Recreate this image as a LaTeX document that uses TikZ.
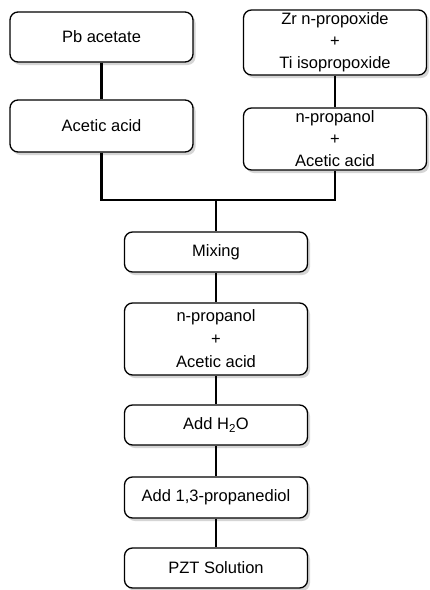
\documentclass[tikz,border=0pt]{standalone}
\usepackage{fontspec}
\setmainfont{Liberation Sans}
\usetikzlibrary{shadows}

\tikzset{
  stepbox/.style={draw, line width=1.3pt, rounded corners=8pt, minimum width=183pt,
    inner sep=0pt, align=center, font=\fontsize{16.5}{22}\selectfont, fill=white,
    drop shadow={shadow xshift=2.5pt, shadow yshift=-3pt, fill=gray!55, opacity=0.6}},
  link/.style={line width=2.6pt}
}

\begin{document}
\begin{tikzpicture}[x=1pt, y=-1pt]
    \fill[white] (0,0) rectangle (430,590); % page
    \useasboundingbox (0,0) rectangle (430,590);
    % left branch
    \node[stepbox, minimum height=50pt] (pb) at (101.5,37) {Pb acetate};
    \node[stepbox, minimum height=52pt] (acid) at (101.5,126) {Acetic acid};
    % right branch
    \node[stepbox, minimum height=65pt] (zrti) at (335,42.5) {Zr n-propoxide\\+\\Ti isopropoxide};
    \node[stepbox, minimum height=62pt] (prop) at (335,139) {n-propanol\\+\\Acetic acid};
    % main line
    \node[stepbox, minimum height=40pt] (mix) at (216,252) {Mixing};
    \node[stepbox, minimum height=72pt, font=\fontsize{16.5}{23}\selectfont] (prop2) at (216,339) {n-propanol\\+\\Acetic acid};
    \node[stepbox, minimum height=40pt] (water) at (216,425) {Add H\textsubscript{2}O};
    \node[stepbox, minimum height=41pt] (diol) at (216,497.5) {Add 1,3-propanediol};
    \node[stepbox, minimum height=40pt] (pzt) at (216,568) {PZT Solution};
    \coordinate (join) at (216,200); % where the branches meet
    % connectors
    \draw[link] (pb) -- (acid);
    \draw[link] (zrti) -- (prop);
    \draw[link] (acid.south) |- (join) -| (prop.south);
    \draw[link] (join) -- (mix);
    \draw[link] (mix) -- (prop2);
    \draw[link] (prop2) -- (water);
    \draw[link] (water) -- (diol);
    \draw[link] (diol) -- (pzt);
\end{tikzpicture}
\end{document}
